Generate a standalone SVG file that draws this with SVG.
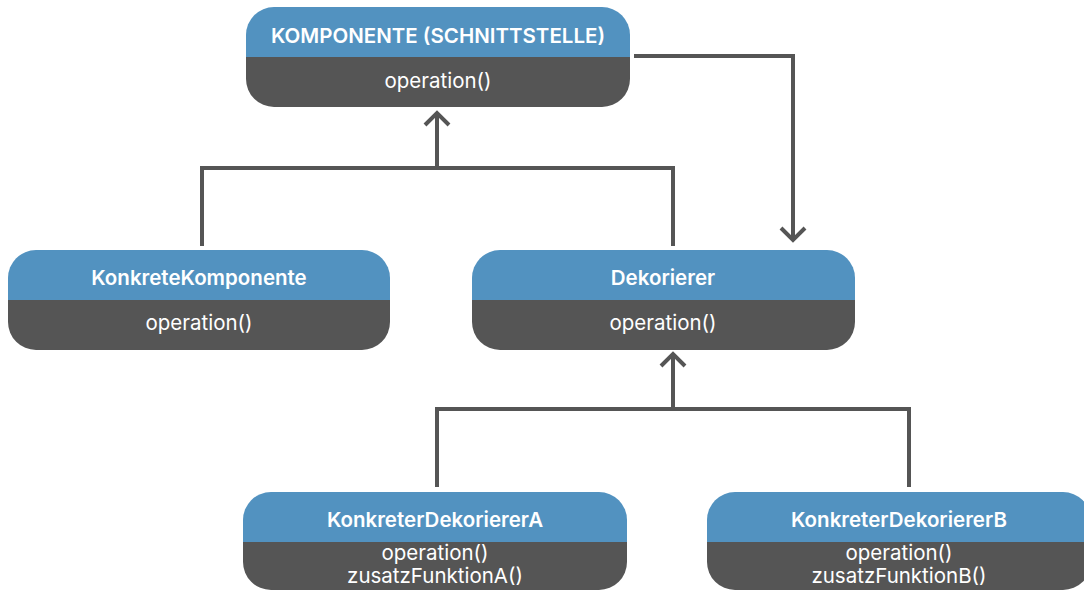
<svg xmlns="http://www.w3.org/2000/svg" width="1084" height="592" viewBox="0 0 1084 592">
<style>
.hd{fill:#5292c0}
.bd{fill:#555555}
.t{font-family:Inter,"Liberation Sans",sans-serif;font-size:20.5px;fill:#ffffff;text-anchor:middle}
.b{font-weight:600}
.c{fill:none;stroke:#555555;stroke-width:4}
</style>
<defs>
<marker id="ah" markerUnits="userSpaceOnUse" markerWidth="30" markerHeight="30" refX="15" refY="15" orient="auto">
<path d="M3,3 L15,15 L3,27" fill="none" stroke="#555555" stroke-width="4"/>
</marker>
</defs>
<rect width="1084" height="592" fill="#ffffff"/>
<g id="connectors">
<path class="c" d="M202,246 V168 H673 V246"/>
<path class="c" d="M437,168 V113" marker-end="url(#ah)"/>
<path class="c" d="M634,56 H793 V240" marker-end="url(#ah)"/>
<path class="c" d="M437,487 V409 H909 V487"/>
<path class="c" d="M673,409 V354" marker-end="url(#ah)"/>
</g>
<g id="komponente">
<path class="hd" d="M246,57 V35 A28,28 0 0 1 274,7 H602 A28,28 0 0 1 630,35 V57 Z"/>
<path class="bd" d="M246,57 H630 V79 A28,28 0 0 1 602,107 H274 A28,28 0 0 1 246,79 Z"/>
<text class="t b" x="438" y="43">KOMPONENTE (SCHNITTSTELLE)</text>
<text class="t" x="438" y="88">operation()</text>
</g>
<g id="konkreteKomponente">
<path class="hd" d="M8,300 V278 A28,28 0 0 1 36,250 H362 A28,28 0 0 1 390,278 V300 Z"/>
<path class="bd" d="M8,300 H390 V322 A28,28 0 0 1 362,350 H36 A28,28 0 0 1 8,322 Z"/>
<text class="t b" x="199" y="285">KonkreteKomponente</text>
<text class="t" x="199" y="330">operation()</text>
</g>
<g id="dekorierer">
<path class="hd" d="M472,300 V278 A28,28 0 0 1 500,250 H827 A28,28 0 0 1 855,278 V300 Z"/>
<path class="bd" d="M472,300 H855 V322 A28,28 0 0 1 827,350 H500 A28,28 0 0 1 472,322 Z"/>
<text class="t b" x="663" y="285">Dekorierer</text>
<text class="t" x="663" y="330">operation()</text>
</g>
<g id="dekoriererA">
<path class="hd" d="M243,542 V520 A28,28 0 0 1 271,492 H599 A28,28 0 0 1 627,520 V542 Z"/>
<path class="bd" d="M243,542 H627 V562 A28,28 0 0 1 599,590 H271 A28,28 0 0 1 243,562 Z"/>
<text class="t b" x="435" y="527">KonkreterDekoriererA</text>
<text class="t" x="435" y="560">operation()</text>
<text class="t" x="435" y="583">zusatzFunktionA()</text>
</g>
<g id="dekoriererB">
<path class="hd" d="M707,542 V520 A28,28 0 0 1 735,492 H1063 A28,28 0 0 1 1091,520 V542 Z"/>
<path class="bd" d="M707,542 H1091 V562 A28,28 0 0 1 1063,590 H735 A28,28 0 0 1 707,562 Z"/>
<text class="t b" x="899" y="527">KonkreterDekoriererB</text>
<text class="t" x="899" y="560">operation()</text>
<text class="t" x="899" y="583">zusatzFunktionB()</text>
</g>
</svg>
